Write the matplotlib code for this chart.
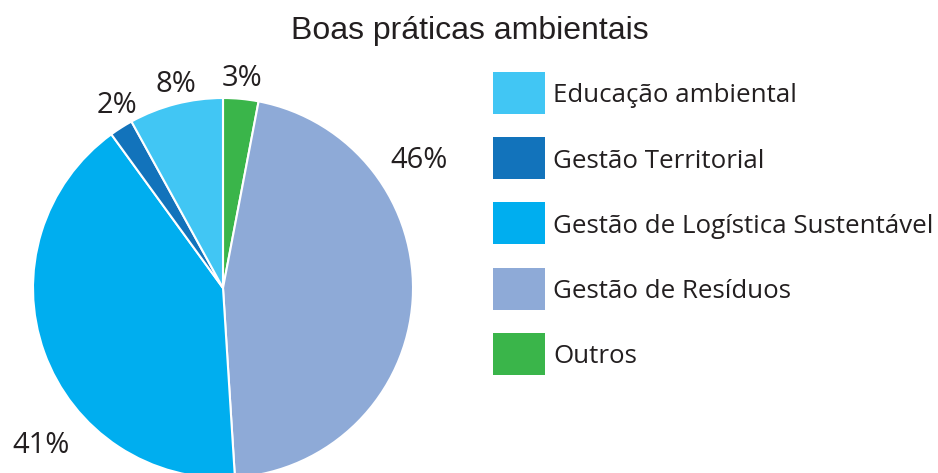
import matplotlib
matplotlib.use("Agg")
import matplotlib.pyplot as plt
from matplotlib.patches import Rectangle

# Slices in clockwise order starting from the top
categories = ["Outros", "Gestão de Resíduos", "Gestão de Logística Sustentável",
              "Gestão Territorial", "Educação ambiental"]
values = [3, 46, 41, 2, 8]
colors = ["#3AB54A", "#8EAAD7", "#00AEEF", "#1273BB", "#41C6F4"]

# Legend order
legend_order = ["Educação ambiental", "Gestão Territorial",
                "Gestão de Logística Sustentável", "Gestão de Resíduos", "Outros"]

# Percent label positions (in pie-radius units)
label_pos = {
    "Outros": (0.10, 1.10),
    "Gestão de Resíduos": (1.03, 0.67),
    "Gestão de Logística Sustentável": (-0.96, -0.83),
    "Gestão Territorial": (-0.56, 0.96),
    "Educação ambiental": (-0.25, 1.07),
}

W, H = 938, 473
fig = plt.figure(figsize=(W / 100, H / 100), dpi=100)
fig.patch.set_facecolor("white")

cx, cy, R = 223, 473 - 288, 190
ax = fig.add_axes([(cx - R) / W, (cy - R) / H, 2 * R / W, 2 * R / H])

wedges, _ = ax.pie(values, colors=colors, startangle=90, counterclock=False,
                   radius=1, wedgeprops=dict(edgecolor="white", linewidth=1.5))
ax.set_xlim(-1, 1)
ax.set_ylim(-1, 1)
ax.set_aspect("equal")
ax.axis("off")
for w in wedges:
    w.set_clip_on(False)

text_color = "#231F20"
font = ["Open Sans", "DejaVu Sans"]
for cat, v in zip(categories, values):
    x, y = label_pos[cat]
    ax.text(x, y, f"{v}%", ha="center", va="center", fontsize=21,
            color=text_color, family=font, clip_on=False)

fig.text(470 / W, 1 - 31 / H, "Boas práticas ambientais", ha="center", va="center",
         fontsize=23, color=text_color, family=["Liberation Sans", "DejaVu Sans"])

# Legend: colour boxes with labels, one row per category
color_map = dict(zip(categories, colors))
box_x, box_w, box_h = 493, 52, 42
row0, step = 93, 65.2
for i, cat in enumerate(legend_order):
    yc = row0 + i * step
    fig.patches.append(Rectangle((box_x / W, 1 - (yc + box_h / 2) / H),
                                 box_w / W, box_h / H, transform=fig.transFigure,
                                 facecolor=color_map[cat], edgecolor="none"))
    fig.text(553 / W, 1 - yc / H, cat, ha="left", va="center_baseline",
             fontsize=18.6, color=text_color, family=font)

fig.savefig("out.png", dpi=100, facecolor="white")
